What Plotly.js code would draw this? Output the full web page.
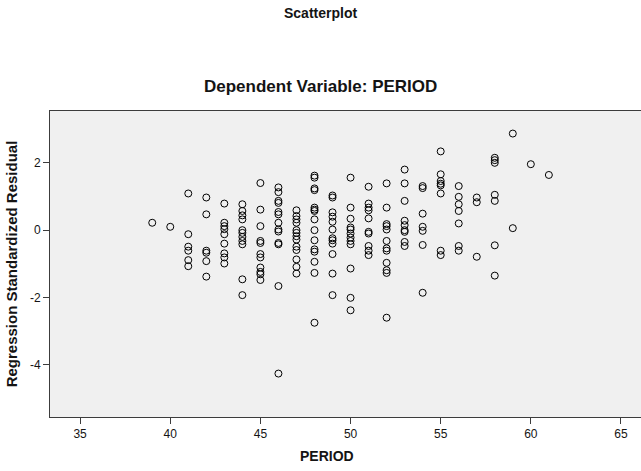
<!DOCTYPE html>
<html>
<head>
<meta charset="utf-8">
<script src="https://cdn.plot.ly/plotly-3.0.1.min.js"></script>
<style>
  html, body { margin: 0; padding: 0; background: #ffffff; }
  #chart { width: 641px; height: 471px; }
</style>
</head>
<body>
<div id="chart"></div>
<script>
// Standardized residuals grouped by PERIOD value
const periods = [39, 40, 41, 42, 43, 44, 45, 46, 47, 48, 49, 50, 51, 52, 53, 54, 55, 56, 57, 58, 59, 60, 61];
const residualsByPeriod = [
  [0.22],
  [0.10],
  [1.09, -0.12, -0.49, -0.61, -0.89, -1.07],
  [0.97, 0.47, -0.61, -0.67, -0.92, -1.38],
  [0.79, 0.22, 0.12, 0.03, -0.12, -0.40, -0.69, -0.81, -0.99],
  [0.77, 0.57, 0.44, 0.32, 0.00, -0.08, -0.20, -0.32, -0.42, -1.46, -1.93],
  [1.40, 0.61, 0.12, -0.32, -0.38, -0.71, -0.81, -1.11, -1.24, -1.31, -1.48],
  [1.27, 1.13, 0.87, 0.81, 0.54, 0.47, 0.22, 0.02, -0.04, -0.38, -0.42, -1.66, -4.26],
  [0.59, 0.42, 0.32, 0.22, 0.00, -0.08, -0.18, -0.28, -0.49, -0.59, -0.87, -1.09, -1.29],
  [1.62, 1.56, 1.24, 1.19, 0.67, 0.61, 0.57, 0.32, 0.00, -0.30, -0.57, -0.64, -0.94, -1.27, -2.75],
  [1.03, 0.97, 0.53, 0.40, 0.25, 0.02, -0.24, -0.30, -0.40, -0.71, -1.29, -1.93],
  [1.56, 0.67, 0.34, 0.08, 0.02, -0.10, -0.22, -0.32, -0.42, -1.14, -2.01, -2.38],
  [1.29, 0.79, 0.67, 0.59, 0.35, -0.05, -0.10, -0.47, -0.61, -0.74],
  [1.39, 0.67, 0.18, 0.12, 0.02, -0.32, -0.54, -0.61, -0.97, -1.19, -1.27, -2.60],
  [1.80, 1.39, 0.87, 0.28, 0.15, 0.00, -0.05, -0.35, -0.47],
  [1.31, 1.25, 0.49, 0.10, -0.02, -0.44, -1.86],
  [2.34, 1.66, 1.46, 1.38, 1.33, 1.09, -0.61, -0.74],
  [1.31, 0.99, 0.77, 0.57, 0.20, -0.47, -0.61],
  [0.97, 0.83, -0.79],
  [2.15, 2.08, 2.00, 1.05, 0.87, -0.45, -1.35],
  [2.87, 0.06],
  [1.96],
  [1.64]
];
const xTicks = [35, 40, 45, 50, 55, 60, 65];
const yTicks = [-4, -2, 0, 2];

// Flatten into point lists
const xs = [], ys = [];
periods.forEach((p, i) => {
  residualsByPeriod[i].forEach(r => { xs.push(p); ys.push(r); });
});

const font = 'Liberation Sans, Arial, sans-serif';
const axisColor = '#3c3c3c';
const textColor = '#141414';

const trace = {
  type: 'scatter',
  mode: 'markers',
  x: xs,
  y: ys,
  marker: {
    symbol: 'circle-open',
    size: 7,
    color: '#000000',
    line: { width: 1, color: '#000000' }
  },
  hoverinfo: 'x+y'
};

// plot area: 591 px wide, 306 px tall
const W = 591, H = 306, L = 50, T = 111;
const px = v => (v - L) / W;
const py = v => 1 - (v - T) / H;

const layout = {
  width: 641,
  height: 471,
  margin: { l: L, r: 0, t: T, b: 471 - T - H },
  paper_bgcolor: '#ffffff',
  plot_bgcolor: '#f0f0f0',
  showlegend: false,
  font: { family: font, size: 12, color: textColor },
  xaxis: {
    range: [33.33, 66.11],
    tickvals: xTicks,
    ticktext: xTicks.map(String),
    ticks: 'outside',
    ticklen: 6,
    tickwidth: 1,
    tickcolor: axisColor,
    showgrid: false,
    zeroline: false,
    showline: true,
    linecolor: axisColor,
    linewidth: 1,
    mirror: true,
    tickfont: { family: font, size: 12, color: textColor }
  },
  yaxis: {
    range: [-5.55, 3.54],
    tickvals: yTicks,
    ticktext: yTicks.map(String),
    ticks: 'outside',
    ticklen: 6,
    tickwidth: 1,
    tickcolor: axisColor,
    showgrid: false,
    zeroline: false,
    showline: true,
    linecolor: axisColor,
    linewidth: 1,
    tickfont: { family: font, size: 12, color: textColor },
    title: {
      text: '<b>Regression Standardized Residual</b>',
      font: { family: font, size: 15, color: textColor },
      standoff: 8
    }
  },
  annotations: [
    {
      text: '<b>Scatterplot</b>',
      xref: 'paper', yref: 'paper',
      x: px(320.5), y: py(13),
      xanchor: 'center', yanchor: 'middle',
      showarrow: false,
      font: { family: font, size: 14, color: textColor }
    },
    {
      text: '<b>Dependent Variable: PERIOD</b>',
      xref: 'paper', yref: 'paper',
      x: px(320.5), y: py(86),
      xanchor: 'center', yanchor: 'middle',
      showarrow: false,
      font: { family: font, size: 17, color: textColor }
    },
    {
      text: '<b>PERIOD</b>',
      xref: 'paper', yref: 'paper',
      x: px(327), y: py(456),
      xanchor: 'center', yanchor: 'middle',
      showarrow: false,
      font: { family: font, size: 14, color: textColor }
    }
  ]
};

Plotly.newPlot('chart', [trace], layout, { displayModeBar: false, staticPlot: true });
</script>
</body>
</html>
